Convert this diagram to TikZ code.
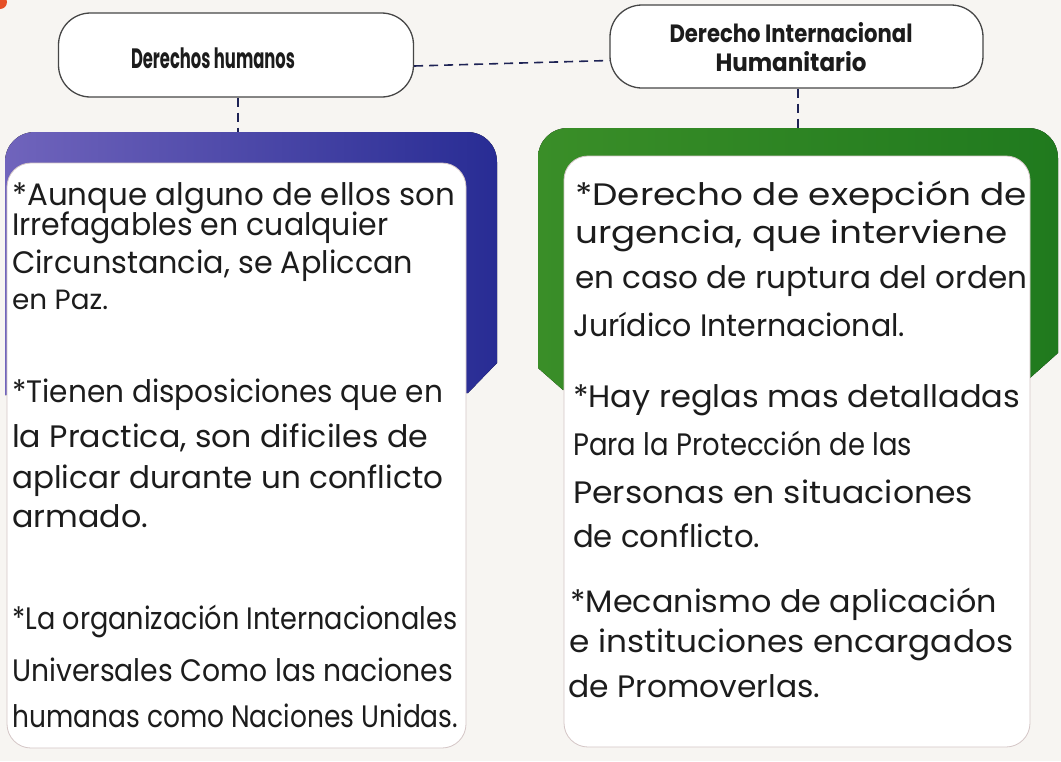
\documentclass[tikz,border=0pt]{standalone}
\usepackage{graphicx}
\usepackage{fontspec}
\setmainfont{Poppins}
\newfontfamily\hand{Poppins}
\newcommand\hwl[2]{\resizebox{#1pt}{\height}{#2}}
\newcommand\hwu[2]{\resizebox{#1pt}{!}{#2}}
\definecolor{paper}{RGB}{247,245,242}
\definecolor{bluel}{RGB}{112,100,188}
\definecolor{blued}{RGB}{40,44,148}
\definecolor{greenl}{RGB}{58,142,40}
\definecolor{greend}{RGB}{32,122,30}
\definecolor{ink}{RGB}{28,28,28}
\definecolor{pillline}{RGB}{70,70,70}
\definecolor{cardline}{RGB}{212,198,198}
\definecolor{dashc}{RGB}{30,35,85}
\definecolor{markc}{RGB}{230,80,40}
\tikzset{
  pill/.style={draw=pillline, line width=1.3pt, fill=white, rounded corners=32pt, inner sep=0pt},
  head/.style={font=\bfseries\fontsize{25}{29}\selectfont, text=ink, align=center, inner sep=0pt},
  hw/.style={anchor=base west, font=\hand\fontsize{31}{34}\selectfont, text=ink, inner sep=0pt},
  link/.style={draw=dashc, line width=1.6pt, dash pattern=on 9pt off 6pt},
  card/.style={fill=white, draw=cardline, line width=0.8pt, rounded corners=24pt},
}
\begin{document}
\begin{tikzpicture}[x=1pt,y=-1pt]
\useasboundingbox (0,0) rectangle (1061,761);
\fill[paper] (0,0) rectangle (1061,761);
\fill[fill=markc] (0,2) circle (7);
% header pills
\node[pill, minimum width=355pt, minimum height=84pt] (dh) at (236,55) {};
\node[head, font=\bfseries\fontsize{28}{30}\selectfont] (dht) at (213,58.5) {\hwl{164}{Derechos humanos}};
\node[pill, minimum width=373pt, minimum height=83pt] (dih) at (796.5,46.5) {};
\node[head] (diht) at (791,47) {\hwl{243}{Derecho Internacional}\\\hwl{151}{Humanitario}};
% coloured frames
\fill[left color=bluel, right color=blued] (5,395) -- (5,162) .. controls (5,145) and (18,132) .. (35,132) -- (467,132) .. controls (484,132) and (497,145) .. (497,162) -- (497,363) -- (468,393) -- cycle;
\fill[left color=greenl, right color=greend] (538,368) -- (538,158) .. controls (538,141) and (551,128) .. (568,128) -- (1028,128) .. controls (1045,128) and (1058,141) .. (1058,158) -- (1058,353) -- (1030,378) -- (563,390) -- cycle;
\coordinate (btop) at (238,132);
\coordinate (gtop) at (798,128);
% connectors
\draw[link] ([yshift=-11pt]dh.east) -- ([yshift=-14pt]dih.west);
\draw[link] ([xshift=2pt]dh.south) -- (btop);
\draw[link] ([xshift=1.5pt]dih.south) -- (gtop);
% cards
\draw[card] (7,163) rectangle (466,748);
\draw[card] (564,156) rectangle (1030,747);
% left text
\node[hw] (l1) at (12,205) {\hwl{443}{*Aunque alguno de ellos son}};
\node[hw] (l2) at (12,235) {\hwl{376}{Irrefagables en cualquier}};
\node[hw] (l3) at (12,273) {\hwl{401}{Circunstancia, se Apliccan}};
\node[hw] (l4) at (12,309) {\hwu{96}{en Paz.}};
\node[hw] (l5) at (12,402) {\hwl{431}{*Tienen disposiciones que en}};
\node[hw] (l6) at (12,447) {\hwl{416}{la Practica, son dificiles de}};
\node[hw] (l7) at (12,488) {\hwl{431}{aplicar durante un conflicto}};
\node[hw] (l8) at (12,527) {\hwl{136}{armado.}};
\node[hw] (l9) at (12,629) {\hwl{445}{*La organización Internacionales}};
\node[hw] (l10) at (12,681) {\hwl{441}{Universales Como las naciones}};
\node[hw] (l11) at (12,727) {\hwl{446}{humanas como Naciones Unidas.}};
% right text
\node[hw] (r1) at (575,205) {\hwl{452}{*Derecho de exepción de}};
\node[hw] (r2) at (575,243) {\hwl{432}{urgencia, que interviene}};
\node[hw] (r3) at (575,288) {\hwl{452}{en caso de ruptura del orden}};
\node[hw] (r4) at (573,336) {\hwl{332}{Jurídico Internacional.}};
\node[hw] (r5) at (573,407) {\hwl{447}{*Hay reglas mas detalladas}};
\node[hw] (r6) at (573,455) {\hwl{339}{Para la Protección de las}};
\node[hw] (r7) at (573,503) {\hwl{400}{Personas en situaciones}};
\node[hw] (r8) at (573,547) {\hwl{187}{de conflicto.}};
\node[hw] (r9) at (570,612) {\hwl{427}{*Mecanismo de aplicación}};
\node[hw] (r10) at (569,652) {\hwl{444}{e instituciones encargados}};
\node[hw] (r11) at (568,697) {\hwl{252}{de Promoverlas.}};
\end{tikzpicture}
\end{document}
